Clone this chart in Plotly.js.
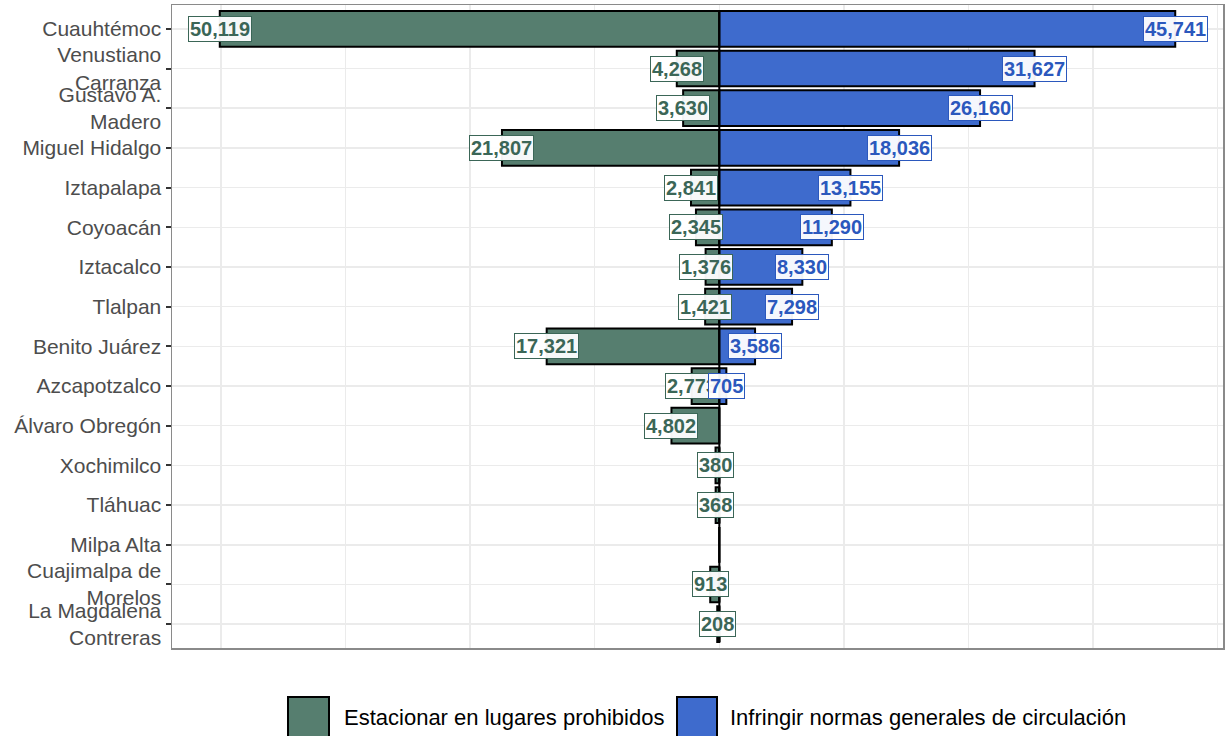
<!DOCTYPE html>
<html>
<head>
<meta charset="utf-8">
<script src="https://cdn.plot.ly/plotly-3.0.1.min.js"></script>
<style>
  html, body { margin: 0; padding: 0; background: #ffffff; }
  #chart { width: 1225px; height: 736px; }
</style>
</head>
<body>
<div id="chart"></div>
<script>
// ---- Data ----
const alcaldias = [
  "Cuauhtémoc", "Venustiano Carranza", "Gustavo A. Madero", "Miguel Hidalgo",
  "Iztapalapa", "Coyoacán", "Iztacalco", "Tlalpan", "Benito Juárez",
  "Azcapotzalco", "Álvaro Obregón", "Xochimilco", "Tláhuac", "Milpa Alta",
  "Cuajimalpa de Morelos", "La Magdalena Contreras"
];
const tickLabels = [
  "Cuauhtémoc", "Venustiano<br>Carranza", "Gustavo A.<br>Madero", "Miguel Hidalgo",
  "Iztapalapa", "Coyoacán", "Iztacalco", "Tlalpan", "Benito Juárez",
  "Azcapotzalco", "Álvaro Obregón", "Xochimilco", "Tláhuac", "Milpa Alta",
  "Cuajimalpa de<br>Morelos", "La Magdalena<br>Contreras"
];
const serieEstacionar = "Estacionar en lugares prohibidos";
const serieInfringir = "Infringir normas generales de circulación";
const estacionar = [50119, 4268, 3630, 21807, 2841, 2345, 1376, 1421, 17321, 2773, 4802, 380, 368, 0, 913, 208];
const infringir  = [45741, 31627, 26160, 18036, 13155, 11290, 8330, 7298, 3586, 705, 0, 0, 0, 0, 0, 0];
const gridBreaks = [-50000, -37500, -25000, -12500, 0, 12500, 25000, 37500, 50000];

// ---- Styles ----
const greenFill = "#567e6f";
const greenText = "#3b6657";
const blueFill = "#3e6bcd";
const blueText = "#2b58bd";
const fontFam = "Liberation Sans, Arial, Helvetica, sans-serif";

const W = 1225, H = 736;
const M = { l: 172, r: 2, t: 5, b: 88 };
const pw = W - M.l - M.r, ph = H - M.t - M.b;
const px = (x) => (x - M.l) / pw;
const py = (y) => (H - M.b - y) / ph;

const fmt = (v) => v.toLocaleString("en-US");

const traces = [
  {
    type: "bar", orientation: "h", name: serieEstacionar,
    y: alcaldias, x: estacionar.map(v => -v),
    marker: { color: greenFill, line: { color: "#000000", width: 2 } },
    showlegend: false, hoverinfo: "skip"
  },
  {
    type: "bar", orientation: "h", name: serieInfringir,
    y: alcaldias, x: infringir,
    marker: { color: blueFill, line: { color: "#000000", width: 2 } },
    showlegend: false, hoverinfo: "skip"
  }
];

const annotations = [];
estacionar.forEach((v, i) => {
  if (v > 0) annotations.push({
    x: -v, y: alcaldias[i], xref: "x", yref: "y", text: fmt(v), showarrow: false,
    xanchor: "center", yanchor: "middle",
    font: { family: fontFam, size: 20, color: greenText, weight: "bold" },
    bgcolor: "rgba(255,255,255,0.95)", bordercolor: greenText, borderwidth: 1, borderpad: 1
  });
});
infringir.forEach((v, i) => {
  if (v > 0) annotations.push({
    x: v, y: alcaldias[i], xref: "x", yref: "y", text: fmt(v), showarrow: false,
    xanchor: "center", yanchor: "middle",
    font: { family: fontFam, size: 20, color: blueText, weight: "bold" },
    bgcolor: "rgba(255,255,255,0.95)", bordercolor: blueText, borderwidth: 1, borderpad: 1
  });
});
// legend texts
annotations.push({
  xref: "paper", yref: "paper", x: px(342), y: py(717), xanchor: "left", yanchor: "middle",
  text: serieEstacionar, showarrow: false, font: { family: fontFam, size: 22, color: "#000000" }
});
annotations.push({
  xref: "paper", yref: "paper", x: px(728), y: py(717), xanchor: "left", yanchor: "middle",
  text: serieInfringir, showarrow: false, font: { family: fontFam, size: 22, color: "#000000" }
});

const shapes = [
  { type: "line", xref: "x", yref: "y", x0: 0, x1: 0, y0: -0.45, y1: alcaldias.length - 0.55,
    line: { color: "#000000", width: 2 }, layer: "above" },
  { type: "rect", xref: "paper", yref: "paper", x0: px(288), x1: px(329), y0: py(697), y1: py(738),
    fillcolor: greenFill, line: { color: "#000000", width: 2 } },
  { type: "rect", xref: "paper", yref: "paper", x0: px(677), x1: px(717), y0: py(697), y1: py(738),
    fillcolor: blueFill, line: { color: "#000000", width: 2 } }
];

const layout = {
  width: W, height: H,
  margin: M,
  paper_bgcolor: "#ffffff", plot_bgcolor: "#ffffff",
  barmode: "relative", bargap: 0.1,
  showlegend: false,
  font: { family: fontFam },
  xaxis: {
    range: [-54912, 50534],
    tickmode: "array", tickvals: gridBreaks, showticklabels: false, ticks: "",
    showgrid: true, gridcolor: "#ebebeb", gridwidth: 1.5,
    zeroline: false,
    showline: true, mirror: true, linecolor: "#8a8a8a", linewidth: 1.5
  },
  yaxis: {
    type: "category", categoryorder: "array", categoryarray: alcaldias,
    range: [alcaldias.length - 0.4, -0.6],
    tickmode: "array", tickvals: alcaldias, ticktext: tickLabels,
    ticks: "outside", ticklen: 5, tickwidth: 2, tickcolor: "#333333",
    tickfont: { family: fontFam, size: 21, color: "#4d4d4d" },
    showgrid: true, gridcolor: "#ebebeb", gridwidth: 1.5,
    zeroline: false,
    showline: true, mirror: true, linecolor: "#8a8a8a", linewidth: 1.5
  },
  annotations: annotations,
  shapes: shapes
};

Plotly.newPlot("chart", traces, layout, { staticPlot: true, displayModeBar: false });
</script>
</body>
</html>
